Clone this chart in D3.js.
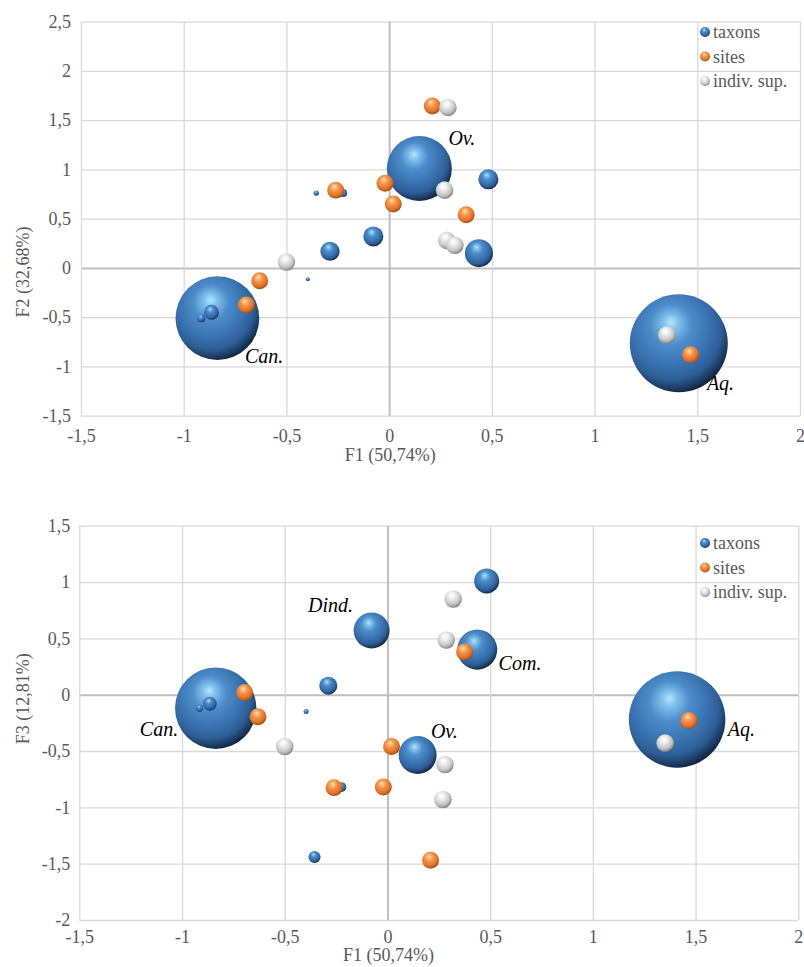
<!DOCTYPE html>
<html><head><meta charset="utf-8">
<script src="https://cdn.jsdelivr.net/npm/d3@7"></script>
<style>body{margin:0;background:#fff} svg{display:block} text{font-family:"Liberation Serif","Times New Roman",serif}</style>
</head><body>
<svg id="c" width="804" height="967"></svg>
<script>
// ---------- data ----------
const xTicks = [-1.5, -1, -0.5, 0, 0.5, 1, 1.5, 2];
const yTicksF2 = [-1.5, -1, -0.5, 0, 0.5, 1, 1.5, 2, 2.5];
const yTicksF3 = [-2, -1.5, -1, -0.5, 0, 0.5, 1, 1.5];

const seriesNames = ["taxons", "sites", "indiv. sup."];

const taxonLabels = ["Aq.", "Can.", "Ov.", "", "Com.", "Dind.", "", "", "", "", "", ""];
const taxonF1 = [1.41, -0.836, 0.147, 0.483, 0.437, -0.077, -0.288, -0.865, -0.915, -0.355, -0.396, -0.224];
const taxonF2 = [-0.765, -0.51, 1.01, 0.90, 0.15, 0.32, 0.17, -0.45, -0.51, 0.76, -0.115, 0.76];
const taxonF3 = [-0.22, -0.12, -0.535, 1.01, 0.40, 0.57, 0.08, -0.08, -0.12, -1.44, -0.15, -0.82];
const taxonSizeF1F2 = [1.0, 0.73, 0.44, 0.042, 0.082, 0.042, 0.038, 0.023, 0.0067, 0.003, 0.0017, 0.0067];
const taxonSizeF1F3 = [0.97, 0.69, 0.15, 0.065, 0.167, 0.135, 0.034, 0.020, 0.005, 0.015, 0.0026, 0.010];

const siteF1 = [-0.26, -0.02, 0.02, 0.21, 0.375, -0.63, -0.695, 1.467];
const siteF2 = [0.79, 0.86, 0.65, 1.645, 0.54, -0.13, -0.375, -0.88];
const siteF3 = [-0.825, -0.82, -0.46, -1.47, 0.38, -0.195, 0.02, -0.23];
const siteSize = [0.03, 0.03, 0.03, 0.03, 0.03, 0.03, 0.03, 0.03];

const indivF1 = [0.27, 0.28, 0.286, 0.32, -0.50, 1.352];
const indivF2 = [0.79, 0.28, 1.63, 0.23, 0.06, -0.68];
const indivF3 = [-0.93, -0.62, 0.485, 0.85, -0.46, -0.43];
const indivSize = [0.032, 0.032, 0.032, 0.032, 0.032, 0.032];

const labelledF1F2 = ["Ov.", "Can.", "Aq."];
const labelledF1F3 = ["Dind.", "Com.", "Can.", "Ov.", "Aq."];

// ---------- drawing ----------
const svg = d3.select("#c");
const FONT = "'Liberation Serif', 'Times New Roman', serif";
const fmt = v => String(v).replace(".", ",");

const defs = svg.append("defs");
function sphere(id, stops) {
  const gr = defs.append("radialGradient").attr("id", id)
    .attr("cx", 0.42).attr("cy", 0.38).attr("r", 0.66)
    .attr("fx", 0.42).attr("fy", 0.28);
  stops.forEach(([o, c]) => gr.append("stop").attr("offset", o).attr("stop-color", c));
}
sphere("gBlue", [[0, "#b6e6fb"], [0.12, "#7fc0ea"], [0.32, "#4c8cca"], [0.58, "#3a74b2"], [0.78, "#2d5e96"], [0.9, "#1b3b62"], [1, "#0b1a2c"]]);
sphere("gOrange", [[0, "#ffe6c8"], [0.18, "#fbb878"], [0.42, "#f28f44"], [0.68, "#e5782c"], [0.86, "#bf6020"], [1, "#8a4410"]]);
sphere("gWhite", [[0, "#ffffff"], [0.2, "#f6f6f6"], [0.45, "#dedede"], [0.7, "#c4c4c4"], [0.88, "#999999"], [1, "#6a6a6a"]]);
const fills = ["url(#gBlue)", "url(#gOrange)", "url(#gWhite)"];

function drawChart(c) {
  const g = svg.append("g").attr("font-family", FONT);
  const x = d3.scaleLinear().domain([-1.5, 2]).range([c.left, c.right]);
  const y = d3.scaleLinear().domain(c.yDomain).range([c.bottom, c.top]);
  const r = d3.scaleSqrt().domain([0, 1]).range([0, 49]);

  const gy = g.append("g").attr("transform", `translate(${c.left},0)`)
    .call(d3.axisLeft(y).tickValues(c.yTicks).tickSize(-(c.right - c.left)).tickPadding(c.yPad).tickFormat(fmt));
  const gx = g.append("g").attr("transform", `translate(0,${c.bottom})`)
    .call(d3.axisBottom(x).tickValues(xTicks).tickSize(-(c.bottom - c.top)).tickPadding(c.xPad).tickFormat(fmt));
  [gx, gy].forEach(a => {
    a.attr("font-family", FONT).attr("font-size", 18);
    a.select(".domain").remove();
    a.selectAll(".tick line").attr("stroke", "#d9d9d9").attr("stroke-width", 1.3);
    a.selectAll(".tick text").attr("fill", "#595959").attr("font-family", FONT)
      .style("font-family", FONT).style("font-size", "18px");
  });
  // zero lines on top
  gx.selectAll(".tick").filter(d => d === 0).select("line").attr("stroke", "#bfbfbf").attr("stroke-width", 2);
  gy.selectAll(".tick").filter(d => d === 0).select("line").attr("stroke", "#bfbfbf").attr("stroke-width", 2);
  gx.selectAll(".tick").filter(d => d === 0).raise();
  gy.selectAll(".tick").filter(d => d === 0).raise();

  // axis titles
  g.append("text").attr("x", x(0) + 1).attr("y", c.xTitleY).attr("text-anchor", "middle")
    .attr("fill", "#595959").style("font-family", FONT).style("font-size", "18px").text(c.xTitle);
  g.append("text").attr("transform", `translate(${c.yTitleX},${y(0) + 4}) rotate(-90)`).attr("text-anchor", "middle")
    .attr("fill", "#595959").style("font-family", FONT).style("font-size", "18px").text(c.yTitle);

  // bubbles
  const series = [
    taxonF1.map((v, i) => ({ x: v, y: c.taxonY[i], s: c.taxonSize[i], label: taxonLabels[i] })),
    siteF1.map((v, i) => ({ x: v, y: c.siteY[i], s: siteSize[i] })),
    indivF1.map((v, i) => ({ x: v, y: c.indivY[i], s: indivSize[i] }))
  ];
  series.forEach((data, k) => {
    const sorted = data.slice().sort((a, b) => b.s - a.s);
    g.append("g").selectAll("circle").data(sorted).join("circle")
      .attr("cx", d => x(d.x)).attr("cy", d => y(d.y)).attr("r", d => r(d.s))
      .attr("fill", fills[k]);
  });

  // labels
  series[0].filter(d => c.labelled.includes(d.label)).forEach(d => {
    const off = c.labelOff[d.label];
    g.append("text").attr("x", x(d.x) + off[0]).attr("y", y(d.y) + off[1])
      .attr("text-anchor", "middle").attr("dominant-baseline", "central")
      .attr("fill", "#000").style("font-family", FONT).style("font-style", "italic").style("font-size", "20px")
      .text(d.label);
  });

  // legend
  const lg = g.append("g");
  seriesNames.forEach((n, k) => {
    const yy = c.legendY + k * 24.5;
    lg.append("circle").attr("cx", c.legendX).attr("cy", yy).attr("r", 5).attr("fill", fills[k]);
    lg.append("text").attr("x", c.legendX + 8).attr("y", yy).attr("dominant-baseline", "central")
      .attr("fill", "#595959").style("font-family", FONT).style("font-size", "18px").text(n);
  });
}

drawChart({
  left: 81, right: 800, top: 21.7, bottom: 415.7,
  yDomain: [-1.5, 2.5], yTicks: yTicksF2, xPad: 14, yPad: 10,
  taxonY: taxonF2, taxonSize: taxonSizeF1F2, siteY: siteF2, indivY: indivF2,
  xTitle: "F1 (50,74%)", yTitle: "F2 (32,68%)", xTitleY: 461, yTitleX: 29,
  labelled: labelledF1F2,
  labelOff: { "Ov.": [42.5, -30.5], "Can.": [46.7, 38], "Aq.": [41.7, 40] },
  legendX: 705, legendY: 32
});
drawChart({
  left: 79.3, right: 798.3, top: 525.7, bottom: 920,
  yDomain: [-2, 1.5], yTicks: yTicksF3, xPad: 10, yPad: 9,
  taxonY: taxonF3, taxonSize: taxonSizeF1F3, siteY: siteF3, indivY: indivF3,
  xTitle: "F1 (50,74%)", yTitle: "F3 (12,81%)", xTitleY: 961, yTitleX: 29,
  labelled: labelledF1F3,
  labelOff: { "Dind.": [-41, -25.7], "Com.": [42.8, 13], "Can.": [-56.7, 20.5], "Ov.": [26.7, -23.5], "Aq.": [64.3, 10] },
  legendX: 705, legendY: 543
});
</script>
</body></html>
